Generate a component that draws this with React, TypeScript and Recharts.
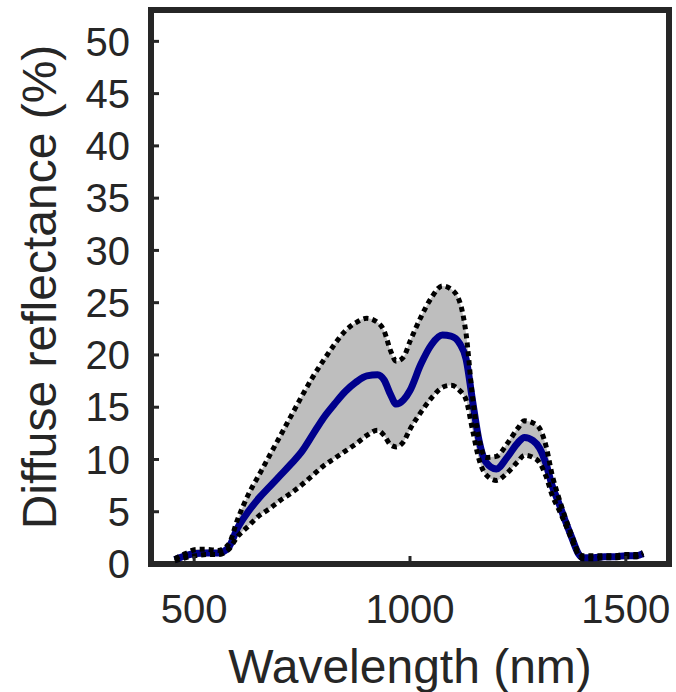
import React from 'react';
import { ComposedChart, Area, Line, XAxis, YAxis, ReferenceArea, Label } from 'recharts';

const wavelengths = [455, 480, 505, 530, 555, 580, 600, 625, 650, 675, 700, 725, 750, 775, 800, 825, 850, 875, 900, 925, 940, 955, 968, 985, 1000, 1025, 1050, 1075, 1095, 1115, 1130, 1145, 1160, 1175, 1200, 1225, 1250, 1265, 1285, 1300, 1315, 1330, 1345, 1360, 1375, 1390, 1400, 1425, 1450, 1475, 1500, 1525, 1540];
const meanVals = [0.4, 0.8, 1.0, 1.05, 1.05, 1.6, 3.4, 5.0, 6.3, 7.4, 8.5, 9.6, 10.8, 12.4, 14.0, 15.3, 16.5, 17.4, 18.0, 18.1, 17.6, 16.2, 15.3, 15.7, 16.6, 19.1, 21.0, 21.9, 21.8, 21.1, 19.6, 15.6, 11.8, 9.8, 9.1, 10.2, 11.6, 12.1, 11.8, 11.1, 9.6, 7.4, 5.8, 4.1, 2.5, 1.0, 0.6, 0.6, 0.7, 0.7, 0.8, 0.8, 1.0];
const upperVals = [0.5, 1.0, 1.4, 1.4, 1.3, 1.9, 4.2, 6.6, 8.5, 10.4, 12.3, 14.2, 16.1, 17.9, 19.5, 21.0, 22.3, 23.1, 23.5, 23.1, 22.3, 20.4, 19.4, 19.8, 21.3, 23.6, 25.5, 26.6, 26.3, 25.1, 22.0, 15.9, 12.0, 10.2, 10.3, 11.5, 13.0, 13.7, 13.5, 13.0, 11.3, 8.4, 6.3, 4.4, 2.7, 1.1, 0.8, 0.8, 0.8, 0.8, 0.9, 0.9, 1.1];
const lowerVals = [0.3, 0.6, 0.8, 0.9, 0.9, 1.4, 2.6, 3.6, 4.6, 5.3, 6.1, 6.8, 7.6, 8.5, 9.4, 10.1, 10.8, 11.5, 12.3, 12.8, 12.3, 11.4, 11.2, 11.7, 12.9, 14.5, 15.9, 16.9, 17.1, 16.6, 15.7, 12.8, 10.0, 8.6, 8.0, 8.7, 9.8, 10.4, 10.2, 9.7, 8.4, 6.5, 5.2, 3.8, 2.3, 0.9, 0.5, 0.5, 0.6, 0.6, 0.7, 0.7, 0.9];

const xTicks = [500, 1000, 1500];
const yTicks = [0, 5, 10, 15, 20, 25, 30, 35, 40, 45, 50];
const xDomain = [400, 1600];
const yDomain = [0, 53];

const data = wavelengths.map((w, i) => ({
  w,
  mean: meanVals[i],
  upper: upperVals[i],
  lower: lowerVals[i],
  band: [lowerVals[i], upperVals[i]],
}));

const FONT = '"Liberation Sans", Arial, Helvetica, sans-serif';
const INK = '#262626';
const tickStyle = { fill: INK, fontSize: 40, fontFamily: FONT };
const tickLineStyle = { stroke: INK, strokeWidth: 3 };
const blank = () => '';

export default function App() {
  return (
    <div style={{ position: 'absolute', left: 0, top: 0, background: '#fff' }}>
      <ComposedChart width={676} height={692} data={data} margin={{ top: 10, right: 7, bottom: 0, left: 0 }}>
        <XAxis
          dataKey="w"
          type="number"
          domain={xDomain}
          ticks={xTicks}
          interval={0}
          height={128}
          tickSize={-8}
          tickMargin={39}
          axisLine={false}
          tickLine={tickLineStyle}
          tick={tickStyle}
        >
          <Label value="Wavelength (nm)" position="insideBottom" offset={9} fill={INK} fontSize={48} fontFamily={FONT} />
        </XAxis>
        <XAxis
          xAxisId="top"
          orientation="top"
          dataKey="w"
          type="number"
          domain={xDomain}
          ticks={xTicks}
          interval={0}
          height={0}
          tickSize={-8}
          axisLine={false}
          tickLine={tickLineStyle}
          tickFormatter={blank}
        />
        <YAxis
          type="number"
          domain={yDomain}
          ticks={yTicks}
          interval={0}
          width={151}
          tickSize={-8}
          tickMargin={29}
          axisLine={false}
          tickLine={tickLineStyle}
          tick={tickStyle}
        >
          <Label value="Diffuse reflectance (%)" position="center" angle={-90} dx={-37} fill={INK} fontSize={48} fontFamily={FONT} />
        </YAxis>
        <YAxis
          yAxisId="right"
          orientation="right"
          type="number"
          domain={yDomain}
          ticks={yTicks}
          interval={0}
          width={0}
          tickSize={-8}
          axisLine={false}
          tickLine={tickLineStyle}
          tickFormatter={blank}
        />
        <Area
          dataKey="band"
          type="monotone"
          stroke="none"
          fill="#bebebe"
          fillOpacity={1}
          isAnimationActive={false}
          dot={false}
          activeDot={false}
        />
        <Line
          dataKey="mean"
          type="monotone"
          stroke="#00008c"
          strokeWidth={7}
          dot={false}
          activeDot={false}
          isAnimationActive={false}
        />
        <Line
          dataKey="upper"
          type="monotone"
          stroke="#000"
          strokeWidth={5}
          strokeDasharray="5 4"
          dot={false}
          activeDot={false}
          isAnimationActive={false}
        />
        <Line
          dataKey="lower"
          type="monotone"
          stroke="#000"
          strokeWidth={5}
          strokeDasharray="5 4"
          dot={false}
          activeDot={false}
          isAnimationActive={false}
        />
        <ReferenceArea
          x1={xDomain[0]}
          x2={xDomain[1]}
          y1={yDomain[0]}
          y2={yDomain[1]}
          fill="none"
          fillOpacity={0}
          stroke={INK}
          strokeWidth={6}
          ifOverflow="visible"
        />
      </ComposedChart>
    </div>
  );
}
